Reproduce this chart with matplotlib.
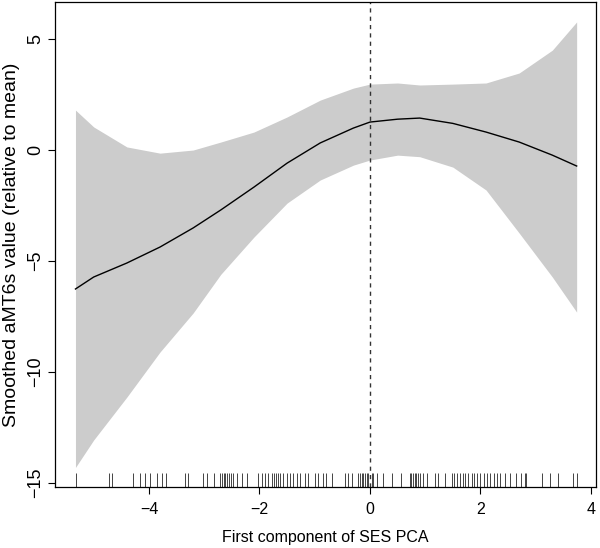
import matplotlib.pyplot as plt

plt.rcParams['font.family'] = ['Liberation Sans', 'DejaVu Sans']

# Smoothed curve
x_grid = [-5.33, -5.0, -4.4, -3.8, -3.2, -2.7, -2.1, -1.5, -0.9, -0.3,
          0.0, 0.5, 0.9, 1.5, 2.1, 2.7, 3.3, 3.74]
fit = [-6.26, -5.72, -5.09, -4.37, -3.51, -2.70, -1.67, -0.59, 0.32, 0.99,
       1.26, 1.39, 1.44, 1.20, 0.81, 0.36, -0.23, -0.72]
upper = [1.80, 1.04, 0.14, -0.14, 0.00, 0.36, 0.81, 1.49, 2.25, 2.79,
         2.97, 3.02, 2.93, 2.97, 3.02, 3.47, 4.50, 5.77]
lower = [-14.30, -13.06, -11.13, -9.10, -7.34, -5.60, -3.92, -2.39, -1.35, -0.68,
         -0.45, -0.23, -0.30, -0.77, -1.80, -3.74, -5.72, -7.30]

# observed SES PCA values (rug)
rug_x = [-5.32, -4.73, -4.67, -4.29, -4.16, -4.07, -3.98, -3.86, -3.77, -3.69,
         -3.35, -3.29, -3.03, -2.95, -2.83, -2.71, -2.68, -2.65, -2.62, -2.59,
         -2.56, -2.52, -2.47, -2.41, -2.32, -2.23, -2.02, -1.96, -1.90, -1.84,
         -1.78, -1.74, -1.70, -1.66, -1.62, -1.57, -1.51, -1.45, -1.39, -1.32,
         -1.26, -1.18, -1.12, -1.00, -0.94, -0.85, -0.79, -0.69, -0.45, -0.39,
         -0.33, -0.21, -0.18, -0.15, -0.12, -0.09, -0.06, -0.03, 0.03, 0.06,
         0.12, 0.24, 0.39, 0.57, 0.72, 0.75, 0.78, 0.81, 0.84, 0.87,
         0.90, 0.96, 1.03, 1.18, 1.24, 1.36, 1.48, 1.52, 1.57, 1.63,
         1.68, 1.72, 1.78, 1.84, 1.88, 1.94, 2.00, 2.06, 2.12, 2.18,
         2.24, 2.30, 2.36, 2.44, 2.53, 2.65, 2.74, 2.80, 2.83, 3.11,
         3.25, 3.41, 3.67, 3.74]

x_ticks = [-4, -2, 0, 2, 4]
y_ticks = [-15, -10, -5, 0, 5]

fig = plt.figure(figsize=(6, 5.48), dpi=100)
ax = fig.add_axes([0.0917, 0.1113, 0.9016, 0.8851])

ax.fill_between(x_grid, lower, upper, color='#cccccc', lw=0)
ax.plot(x_grid, fit, color='black', lw=1.0)
ax.axvline(0, color='#333333', lw=1.0, dashes=(3, 3))
ax.vlines(rug_x, 0, 0.029, transform=ax.get_xaxis_transform(),
          color='black', lw=0.6, alpha=0.85)

ax.set_xlim(-5.70, 4.09)
ax.set_ylim(-15.18, 6.67)
ax.set_xticks(x_ticks)
ax.set_xticklabels(['\u22124', '\u22122', '0', '2', '4'])
ax.set_yticks(y_ticks)
ax.set_yticklabels(['\u221215', '\u221210', '\u22125', '0', '5'], rotation=90, va='center')
ax.tick_params(direction='out', length=5, width=0.8)
ax.tick_params(axis='x', pad=6, labelsize=11.5)
ax.tick_params(axis='y', pad=3, labelsize=13)

for s in ax.spines.values():
    s.set_linewidth(0.9)

ax.set_xlabel('First component of SES PCA', fontsize=11.5)
ax.set_ylabel('Smoothed aMT6s value (relative to mean)', fontsize=14)
ax.xaxis.set_label_coords(0.5, -0.088)
ax.yaxis.set_label_coords(-0.064, 0.5)

fig.savefig('out.png', dpi=100)
